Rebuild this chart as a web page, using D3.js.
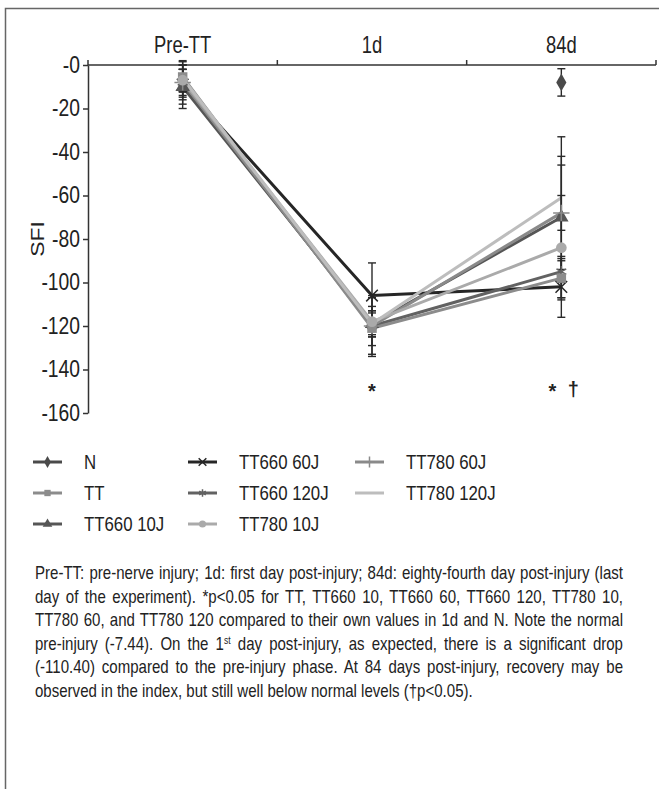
<!DOCTYPE html>
<html>
<head>
<meta charset="utf-8">
<script src="https://cdn.jsdelivr.net/npm/d3@7"></script>
<style>
  body { margin: 0; background: #fff; }
  svg { display: block; }
  text { font-family: "Liberation Sans", Arial, sans-serif; fill: #222; }
</style>
</head>
<body>
<svg id="chart" width="659" height="789"></svg>
<script>
// time points on the top axis
const timepoints = ["Pre-TT", "1d", "84d"];
const yTicks = [0, -20, -40, -60, -80, -100, -120, -140, -160];

// groups, in legend order
const groups = ["N", "TT", "TT660 10J", "TT660 60J", "TT660 120J", "TT780 10J", "TT780 60J", "TT780 120J"];

// mean SFI per group at Pre-TT, 1d, 84d (null = not measured)
const groupMeans = [
  [-7.4, null, -8],
  [-5.5, -121, -98],
  [-10, -119, -70],
  [-9, -106, -102],
  [-8, -120, -95],
  [-7, -118, -84],
  [-8, -120, -68],
  [-6, -119, -61]
];
// standard deviations
const groupSD = [
  [7.4, null, 6.3],
  [7, 8, 9],
  [8, 5, 37],
  [11, 15, 14],
  [8, 14, 5],
  [5, 7, 24],
  [6, 13, 26],
  [6, 6, 15]
];

// significance marks under the points
const sigMarks = [
  { t: "1d", label: "*", v: -150, dx: 0 },
  { t: "84d", label: "*", v: -150, dx: -9 },
  { t: "84d", label: "\u2020", v: -149, dx: 12 }
];

// looks for every group
const groupColor = ["#4a4a4a", "#8c8c8c", "#565656", "#262626", "#626262", "#aaaaaa", "#8a8a8a", "#bdbdbd"];
const groupSymbol = [d3.symbolDiamond, d3.symbolSquare, d3.symbolTriangle, d3.symbolTimes, d3.symbolAsterisk, d3.symbolCircle, d3.symbolPlus, null];
const drawOrder = [3, 0, 2, 4, 1, 6, 5, 7];

const captionLines = [
  "Pre-TT: pre-nerve injury; 1d: first day post-injury; 84d: eighty-fourth day post-injury (last",
  "day of the experiment). *p<0.05 for TT, TT660 10, TT660 60, TT660 120, TT780 10,",
  "TT780 60, and TT780 120 compared to their own values in 1d and N. Note the normal",
  "pre-injury (-7.44). On the 1|st| day post-injury, as expected, there is a significant drop",
  "(-110.40) compared to the pre-injury phase. At 84 days post-injury, recovery may be",
  "observed in the index, but still well below normal levels (\u2020p<0.05)."
];

// the print font is a condensed grotesque: squeeze Liberation Sans sideways
function narrow(sel, xPos, sq) {
  sel.attr("transform", `scale(${sq},1)`).attr("x", xPos / sq);
  return sel;
}

const svg = d3.select("#chart");

// outer frame (left and top edges)
svg.append("path")
  .attr("d", "M5.5,789 V8.5 H659")
  .attr("fill", "none")
  .attr("stroke", "#666")
  .attr("stroke-width", 1.5);

const mLeft = 88, mRight = 656, mTop = 65, mBottom = 413;

const x = d3.scaleBand().domain(timepoints).range([mLeft, mRight]);
const y = d3.scaleLinear().domain([0, -160]).range([mTop, mBottom]);
const xc = t => x(t) + x.bandwidth() / 2;

// y axis
const yAxis = svg.append("g")
  .attr("transform", `translate(${mLeft},0)`)
  .call(d3.axisLeft(y).tickValues(yTicks).tickSize(5).tickSizeOuter(0)
    .tickFormat(d => d === 0 ? "-0" : String(d)));
yAxis.attr("font-family", null).attr("font-size", null);
yAxis.select(".domain").attr("stroke", "#333").attr("stroke-width", 1.5);
yAxis.selectAll(".tick line").attr("stroke", "#333").attr("stroke-width", 1.5);
yAxis.selectAll(".tick text")
  .attr("font-size", 23)
  .attr("fill", "#222")
  .call(narrow, -8, 0.84);

// top axis with band boundaries as ticks
const xAxis = svg.append("g").attr("transform", `translate(0,${mTop})`);
xAxis.append("line")
  .attr("x1", mLeft).attr("x2", mRight)
  .attr("stroke", "#333").attr("stroke-width", 1.5);
const bounds = timepoints.map(t => x(t) + x.bandwidth()).concat([mLeft]);
xAxis.selectAll("line.tk").data(bounds).join("line")
  .attr("class", "tk")
  .attr("x1", d => d).attr("x2", d => d)
  .attr("y1", 0).attr("y2", -5)
  .attr("stroke", "#333").attr("stroke-width", 1.5);
xAxis.selectAll("text").data(timepoints).join("text")
  .attr("y", -12)
  .attr("text-anchor", "middle")
  .attr("font-size", 23)
  .text(d => d)
  .each(function (d) { narrow(d3.select(this), xc(d), 0.8); });

// y axis title
svg.append("text")
  .attr("transform", `translate(44,${y(-80)}) rotate(-90) scale(1,0.82)`)
  .attr("text-anchor", "middle")
  .attr("font-size", 23)
  .text("SFI");

const line = d3.line()
  .defined(d => d.v !== null)
  .x(d => xc(d.t))
  .y(d => y(d.v));

const pts = i => timepoints.map((t, j) => ({ t: t, v: groupMeans[i][j], sd: groupSD[i][j] }));

// lines
drawOrder.forEach(i => {
  svg.append("path")
    .datum(pts(i))
    .attr("d", line)
    .attr("fill", "none")
    .attr("stroke", groupColor[i])
    .attr("stroke-width", 3)
    .attr("stroke-linejoin", "round");
});

// error bars
const eb = svg.append("g").attr("stroke", "#2a2a2a").attr("stroke-width", 1.4);
groups.forEach((g, i) => {
  pts(i).filter(d => d.v !== null).forEach(d => {
    const cx = xc(d.t);
    eb.append("line").attr("x1", cx).attr("x2", cx).attr("y1", y(d.v + d.sd)).attr("y2", y(d.v - d.sd));
    [d.v + d.sd, d.v - d.sd].forEach(e => {
      eb.append("line").attr("x1", cx - 4).attr("x2", cx + 4).attr("y1", y(e)).attr("y2", y(e));
    });
  });
});

// markers
function drawMarker(sel, i, cx, cy, size) {
  const sym = groupSymbol[i];
  if (!sym) return;
  const stroked = sym === d3.symbolTimes || sym === d3.symbolAsterisk || sym === d3.symbolPlus;
  sel.append("path")
    .attr("d", d3.symbol(sym, size)())
    .attr("transform", `translate(${cx},${cy})`)
    .attr("fill", stroked ? "none" : groupColor[i])
    .attr("stroke", stroked ? groupColor[i] : "none")
    .attr("stroke-width", 1.5);
}
drawOrder.forEach(i => {
  pts(i).filter(d => d.v !== null).forEach(d => {
    drawMarker(svg, i, xc(d.t), y(d.v), 90);
  });
});

// significance marks
svg.selectAll("text.sig").data(sigMarks).join("text")
  .attr("class", "sig")
  .attr("x", d => xc(d.t) + d.dx)
  .attr("y", d => y(d.v))
  .attr("text-anchor", "middle")
  .attr("dominant-baseline", "central")
  .attr("font-size", 20)
  .attr("font-weight", "bold")
  .attr("fill", "#111")
  .text(d => d.label);

// legend, column by column
const legCols = [33, 188, 355];
const legRows = [462, 493, 524];
const legend = svg.append("g");
groups.forEach((g, i) => {
  const col = Math.floor(i / 3), row = i % 3;
  const lx = legCols[col], ly = legRows[row];
  legend.append("line")
    .attr("x1", lx).attr("x2", lx + 29)
    .attr("y1", ly).attr("y2", ly)
    .attr("stroke", groupColor[i]).attr("stroke-width", 3);
  drawMarker(legend, i, lx + 14.5, ly, 40);
  legend.append("text")
    .attr("y", ly)
    .attr("dominant-baseline", "central")
    .attr("font-size", 21)
    .text(g)
    .call(narrow, lx + 51, 0.8);
});

// caption, justified line by line
const capLeft = 35, capRight = 623, capTop = 579, capStep = 23.6, capSq = 0.86;
captionLines.forEach((ln, k) => {
  const t = svg.append("text")
    .attr("y", capTop + k * capStep)
    .attr("font-size", 17.5)
    .attr("fill", "#333")
    .call(narrow, capLeft, capSq);
  ln.split("|").forEach((part, p) => {
    const ts = t.append("tspan").text(part);
    if (p === 1) ts.attr("font-size", 10).attr("dy", -6);
    if (p === 2) ts.attr("dy", 6);
  });
  if (k < captionLines.length - 1) {
    const w = t.node().getComputedTextLength();
    const spaces = (ln.match(/ /g) || []).length;
    t.attr("word-spacing", ((capRight - capLeft) / capSq - w) / spaces);
  }
});
</script>
</body>
</html>
